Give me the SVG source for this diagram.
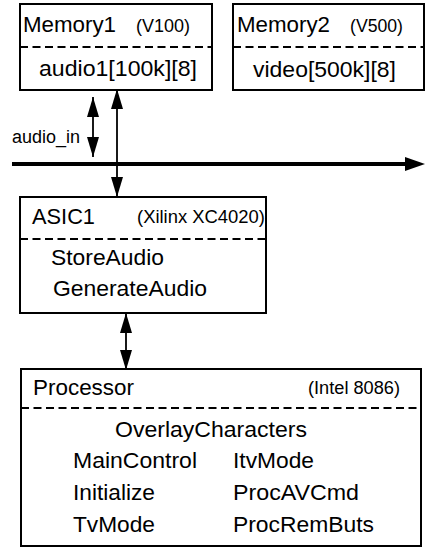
<svg xmlns="http://www.w3.org/2000/svg" width="425" height="548" viewBox="0 0 425 548">
  <style>
    .box { fill: #fff; stroke: #000; stroke-width: 2; }
    .sep { stroke: #000; stroke-width: 2; stroke-dasharray: 8 4.5; }
    .lbl { font-family: "Liberation Sans", Arial, sans-serif; font-size: 22px; fill: #000; }
    .sm { font-family: "Liberation Sans", Arial, sans-serif; font-size: 18px; fill: #000; }
    .wire { stroke: #000; stroke-width: 1.8; fill: none; }
    .bus { stroke: #000; stroke-width: 4; fill: none; }
  </style>
  <defs>
    <marker id="head" viewBox="0 0 20 12" refX="20" refY="6" markerWidth="20" markerHeight="12" markerUnits="userSpaceOnUse" orient="auto-start-reverse">
      <path d="M0,0 L20,6 L0,12 z" fill="#000"/>
    </marker>
    <marker id="busHead" viewBox="0 0 20 14" refX="2" refY="7" markerWidth="20" markerHeight="14" markerUnits="userSpaceOnUse" orient="auto">
      <path d="M0,0 L20,7 L0,14 z" fill="#000"/>
    </marker>
  </defs>

  <g id="memory1">
    <rect class="box" x="20" y="4" width="192" height="86"/>
    <line class="sep" x1="20" y1="47" x2="212" y2="47"/>
    <text class="lbl" x="23" y="32" textLength="93" lengthAdjust="spacingAndGlyphs">Memory1</text>
    <text class="sm" x="136" y="32" textLength="54" lengthAdjust="spacingAndGlyphs">(V100)</text>
    <text class="lbl" x="39" y="76" textLength="158" lengthAdjust="spacingAndGlyphs">audio1[100k][8]</text>
  </g>

  <g id="memory2">
    <rect class="box" x="233" y="4" width="191" height="86"/>
    <line class="sep" x1="233" y1="47" x2="424" y2="47"/>
    <text class="lbl" x="237" y="32" textLength="93" lengthAdjust="spacingAndGlyphs">Memory2</text>
    <text class="sm" x="350" y="32" textLength="53" lengthAdjust="spacingAndGlyphs">(V500)</text>
    <text class="lbl" x="253" y="77" textLength="143" lengthAdjust="spacingAndGlyphs">video[500k][8]</text>
  </g>

  <g id="asic1">
    <rect class="box" x="20" y="197" width="246" height="116"/>
    <line class="sep" x1="20" y1="239" x2="266" y2="239"/>
    <text class="lbl" x="32" y="224" textLength="63" lengthAdjust="spacingAndGlyphs">ASIC1</text>
    <text class="sm" x="137" y="223" textLength="128" lengthAdjust="spacingAndGlyphs">(Xilinx XC4020)</text>
    <text class="lbl" x="51" y="265" textLength="113" lengthAdjust="spacingAndGlyphs">StoreAudio</text>
    <text class="lbl" x="53" y="296" textLength="154" lengthAdjust="spacingAndGlyphs">GenerateAudio</text>
  </g>

  <g id="processor">
    <rect class="box" x="21" y="369" width="400" height="177"/>
    <line class="sep" x1="21" y1="408" x2="421" y2="408"/>
    <text class="lbl" x="33" y="395" textLength="101" lengthAdjust="spacingAndGlyphs">Processor</text>
    <text class="sm" x="308" y="394" textLength="92" lengthAdjust="spacingAndGlyphs">(Intel 8086)</text>
    <text class="lbl" x="115" y="437" textLength="192" lengthAdjust="spacingAndGlyphs">OverlayCharacters</text>
    <text class="lbl" x="73" y="468" textLength="124" lengthAdjust="spacingAndGlyphs">MainControl</text>
    <text class="lbl" x="233" y="468" textLength="81" lengthAdjust="spacingAndGlyphs">ItvMode</text>
    <text class="lbl" x="73" y="500" textLength="82" lengthAdjust="spacingAndGlyphs">Initialize</text>
    <text class="lbl" x="233" y="500" textLength="126" lengthAdjust="spacingAndGlyphs">ProcAVCmd</text>
    <text class="lbl" x="73" y="532" textLength="82" lengthAdjust="spacingAndGlyphs">TvMode</text>
    <text class="lbl" x="233" y="532" textLength="141" lengthAdjust="spacingAndGlyphs">ProcRemButs</text>
  </g>

  <g id="connectors">
    <!-- system bus -->
    <line class="bus" x1="12" y1="164" x2="407" y2="164" marker-end="url(#busHead)"/>
    <!-- audio input from bus into memory -->
    <line class="wire" x1="93" y1="97" x2="93" y2="157" marker-start="url(#head)" marker-end="url(#head)"/>
    <text class="sm" x="12" y="143" textLength="68" lengthAdjust="spacingAndGlyphs">audio_in</text>
    <!-- memory1 to ASIC1 -->
    <line class="wire" x1="117" y1="89" x2="117" y2="197" marker-start="url(#head)" marker-end="url(#head)"/>
    <!-- ASIC1 to processor -->
    <line class="wire" x1="126" y1="313" x2="126" y2="370" marker-start="url(#head)" marker-end="url(#head)"/>
  </g>
</svg>
